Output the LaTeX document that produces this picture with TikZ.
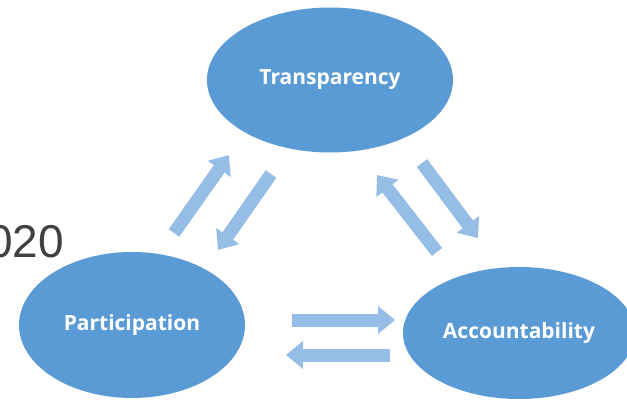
\documentclass[tikz,border=0pt]{standalone}
\usepackage{fontspec}
\setmainfont{Open Sans}
\newfontfamily\yearfont{Liberation Sans}
\usetikzlibrary{arrows.meta,positioning,shapes.geometric}
\definecolor{ovalblue}{HTML}{5B9BD5}
\definecolor{arrowblue}{HTML}{95BDE6}
\definecolor{yeargray}{HTML}{404040}
\tikzset{pillar/.style={ellipse,fill=ovalblue,text=white,inner sep=0pt,
    font=\fontsize{21}{24}\selectfont\bfseries}}
\tikzset{flow/.style={color=arrowblue,line width=13pt,
    -{Triangle[length=17pt,width=27pt]}}}

\begin{document}
\begin{tikzpicture}[x=1pt,y=-1pt]
\useasboundingbox (0,0) rectangle (627,401);
% \draw[help lines,step=50] (0,0) grid (627,401);
\node (yr) [anchor=base east,inner sep=0pt,text=yeargray,
  font=\yearfont\fontsize{46}{50}\selectfont] at (64,258) {020};
\node (trans) [pillar,minimum width=246,minimum height=145] at (330,80) {Transparency};
\node (part) [pillar,minimum width=226,minimum height=146] at (132,325) {Participation};
\node (acc) [pillar,minimum width=232,minimum height=132] at (519,333) {Accountability};
%
\coordinate (pt1) at (174,233); \coordinate (pt2) at (229,155);
\coordinate (tp1) at (271,174); \coordinate (tp2) at (218,250);
\coordinate (at1) at (437,252); \coordinate (at2) at (377,175);
\coordinate (ta1) at (422,163); \coordinate (ta2) at (478,238);
\coordinate (pa1) at (292,320); \coordinate (pa2) at (395,320);
\coordinate (ap1) at (390,355); \coordinate (ap2) at (286,355);
%
\draw[flow] (pt1) -- (pt2);
\draw[flow] (tp1) -- (tp2);
\draw[flow] (at1) -- (at2);
\draw[flow] (ta1) -- (ta2);
\draw[flow] (pa1) -- (pa2);
\draw[flow] (ap1) -- (ap2);
\end{tikzpicture}
\end{document}
